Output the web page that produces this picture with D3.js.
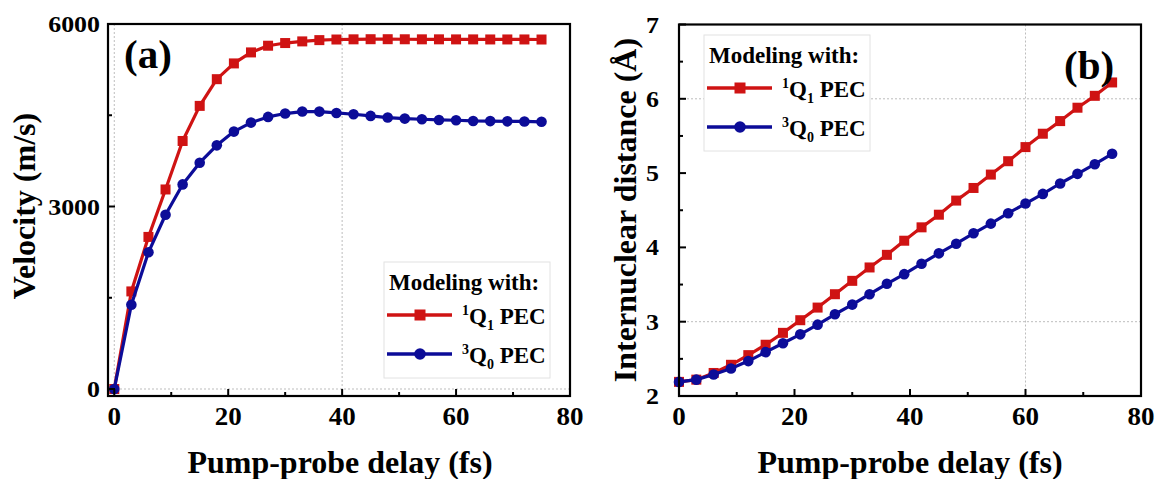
<!DOCTYPE html>
<html>
<head>
<meta charset="utf-8">
<script src="https://cdn.jsdelivr.net/npm/d3@7"></script>
<style>
  html, body { margin: 0; padding: 0; background: #fff; }
  svg { display: block; }
  text { font-family: "Liberation Serif", "Times New Roman", serif; font-weight: bold; fill: #000; }
</style>
</head>
<body>
<svg id="chart" width="1155" height="479"></svg>
<script>
// Pump-probe delays (fs) at which both models were evaluated
const delays = [0, 3, 6, 9, 12, 15, 18, 21, 24, 27, 30, 33, 36, 39, 42, 45, 48, 51, 54, 57, 60, 63, 66, 69, 72, 75];

// Panel (a): velocity (m/s)
const velocityQ1 = [0, 1604, 2500, 3280, 4077, 4654, 5093, 5352, 5533, 5643, 5687, 5714, 5735,
  5745, 5748, 5750, 5750, 5749, 5748, 5748, 5747, 5747, 5746, 5746, 5746, 5745];
const velocityQ0 = [0, 1385, 2247, 2865, 3363, 3720, 4005, 4231, 4379, 4473, 4528, 4561, 4560,
  4538, 4516, 4489, 4462, 4445, 4434, 4423, 4418, 4406, 4404, 4400, 4398, 4392];

// Panel (b): internuclear distance (Å)
const distanceQ1 = [2.19, 2.22, 2.31, 2.42, 2.55, 2.69, 2.85, 3.02, 3.19, 3.37, 3.55, 3.73, 3.90,
  4.09, 4.27, 4.44, 4.63, 4.80, 4.98, 5.16, 5.35, 5.53, 5.70, 5.88, 6.04, 6.22];
const distanceQ0 = [2.19, 2.22, 2.29, 2.37, 2.47, 2.59, 2.71, 2.83, 2.96, 3.10, 3.23, 3.37, 3.51,
  3.64, 3.78, 3.92, 4.05, 4.19, 4.32, 4.46, 4.59, 4.72, 4.86, 4.99, 5.12, 5.26];

// Axis ticks
const xMajorTicks = [0, 20, 40, 60, 80];
const xMinorTicks = [10, 30, 50, 70];
const velMajorTicks = [0, 3000, 6000];
const velMinorTicks = [1500, 4500];
const distMajorTicks = [2, 3, 4, 5, 6, 7];
const distMinorTicks = [2.5, 3.5, 4.5, 5.5, 6.5];

// Legend entries
const legendTitle = "Modeling with:";
const seriesNames = [
  { sup: "1", base: "Q", sub: "1", tail: " PEC" },
  { sup: "3", base: "Q", sub: "0", tail: " PEC" }
];

const RED = "#cf1313";
const BLUE = "#0c0c98";

const svg = d3.select("#chart");

function panel(opts) {
  const g = svg.append("g");
  const x = d3.scaleLinear().domain(opts.xDomain).range(opts.xRange);
  const y = d3.scaleLinear().domain(opts.yDomain).range(opts.yRange);
  const [L, R] = opts.xRange;
  const [B, T] = opts.yRange;

  // dotted grid lines
  const grid = g.append("g").attr("stroke", "#bdbdbd").attr("stroke-width", 1)
    .attr("stroke-dasharray", "2,2").attr("fill", "none");
  opts.xGrid.forEach(v => grid.append("line").attr("x1", x(v)).attr("x2", x(v)).attr("y1", T).attr("y2", B));
  opts.yGrid.forEach(v => grid.append("line").attr("x1", L).attr("x2", R).attr("y1", y(v)).attr("y2", y(v)));

  // series
  const line = d3.line().x((d, i) => x(delays[i])).y(d => y(d));
  opts.series.forEach(s => {
    g.append("path").datum(s.values).attr("d", line)
      .attr("fill", "none").attr("stroke", s.color).attr("stroke-width", 3.2)
      .attr("stroke-linejoin", "round");
    if (s.shape === "square") {
      g.selectAll(null).data(s.values).enter().append("rect")
        .attr("x", (d, i) => x(delays[i]) - 5).attr("y", d => y(d) - 5)
        .attr("width", 10).attr("height", 10).attr("fill", s.color);
    } else {
      g.selectAll(null).data(s.values).enter().append("circle")
        .attr("cx", (d, i) => x(delays[i])).attr("cy", d => y(d))
        .attr("r", 5.3).attr("fill", s.color);
    }
  });

  // inward ticks
  const ticks = g.append("g").attr("stroke", "#000").attr("stroke-width", 2);
  xMajorTicks.forEach(v => ticks.append("line").attr("x1", x(v)).attr("x2", x(v)).attr("y1", B).attr("y2", B - 7));
  xMinorTicks.forEach(v => ticks.append("line").attr("x1", x(v)).attr("x2", x(v)).attr("y1", B).attr("y2", B - 4));
  opts.yMajor.forEach(v => ticks.append("line").attr("y1", y(v)).attr("y2", y(v)).attr("x1", L).attr("x2", L + 7));
  opts.yMinor.forEach(v => ticks.append("line").attr("y1", y(v)).attr("y2", y(v)).attr("x1", L).attr("x2", L + 4));

  // frame
  g.append("rect").attr("x", L).attr("y", T).attr("width", R - L).attr("height", B - T)
    .attr("fill", "none").attr("stroke", "#000").attr("stroke-width", 2.2);

  // tick labels
  xMajorTicks.forEach(v => g.append("text")
    .attr("transform", `translate(${x(v)},${B + 29}) scale(1.08,1)`)
    .attr("text-anchor", "middle").attr("font-size", 25).text(v));
  opts.yMajor.forEach(v => g.append("text")
    .attr("transform", `translate(${opts.yLabelX},${y(v) + 8}) scale(1.08,1)`)
    .attr("text-anchor", "end").attr("font-size", 24).text(v));

  // axis titles
  g.append("text").attr("x", (opts.xTitleX)).attr("y", 473)
    .attr("text-anchor", "middle").attr("font-size", 32).text("Pump-probe delay (fs)");
  g.append("text").attr("transform", `translate(${opts.yTitleX},${opts.yTitleY}) rotate(-90)`)
    .attr("text-anchor", "middle").attr("font-size", 32).text(opts.yTitle);

  // panel tag
  g.append("text").attr("x", opts.tag.x).attr("y", opts.tag.y).attr("font-size", 41).text(opts.tag.text);

  // legend
  const lg = g.append("g").attr("transform", `translate(${opts.legend.x},${opts.legend.y})`);
  lg.append("rect").attr("x", 0).attr("y", 0).attr("width", 166).attr("height", 116)
    .attr("fill", "#fff").attr("stroke", "#e2e2e2").attr("stroke-width", 1);
  lg.append("text").attr("x", 5).attr("y", 28).attr("font-size", 23).text(legendTitle);
  opts.series.forEach((s, i) => {
    const cy = 53 + i * 39;
    lg.append("line").attr("x1", 3).attr("x2", 68).attr("y1", cy).attr("y2", cy)
      .attr("stroke", s.color).attr("stroke-width", 3.5);
    if (s.shape === "square") {
      lg.append("rect").attr("x", 30.5).attr("y", cy - 5.5).attr("width", 11).attr("height", 11).attr("fill", s.color);
    } else {
      lg.append("circle").attr("cx", 36).attr("cy", cy).attr("r", 5.8).attr("fill", s.color);
    }
    const n = seriesNames[i];
    const t = lg.append("text").attr("x", 78).attr("y", cy + 9).attr("font-size", 23);
    t.append("tspan").attr("font-size", 14).attr("dy", -9).text(n.sup);
    t.append("tspan").attr("dy", 9).text(n.base);
    t.append("tspan").attr("font-size", 14).attr("dy", 6).text(n.sub);
    t.append("tspan").attr("dy", -6).text(n.tail);
  });
}

panel({
  xDomain: [-1.1, 80], xRange: [108, 570],
  yDomain: [-115, 6000], yRange: [396, 24],
  xGrid: [0, 40], yGrid: [0],
  yMajor: velMajorTicks, yMinor: velMinorTicks, yLabelX: 100,
  yTitle: "Velocity (m/s)", yTitleX: 35, yTitleY: 206, xTitleX: 340,
  tag: { text: "(a)", x: 124, y: 68 },
  legend: { x: 384, y: 262 },
  series: [
    { values: velocityQ1, color: RED, shape: "square" },
    { values: velocityQ0, color: BLUE, shape: "circle" }
  ]
});

panel({
  xDomain: [0, 80], xRange: [679, 1141],
  yDomain: [2, 7], yRange: [396, 24.5],
  xGrid: [60], yGrid: [3, 6],
  yMajor: distMajorTicks, yMinor: distMinorTicks, yLabelX: 659,
  yTitle: "Internuclear distance (Å)", yTitleX: 636, yTitleY: 210, xTitleX: 910,
  tag: { text: "(b)", x: 1064, y: 79 },
  legend: { x: 704, y: 35 },
  series: [
    { values: distanceQ1, color: RED, shape: "square" },
    { values: distanceQ0, color: BLUE, shape: "circle" }
  ]
});
</script>
</body>
</html>
